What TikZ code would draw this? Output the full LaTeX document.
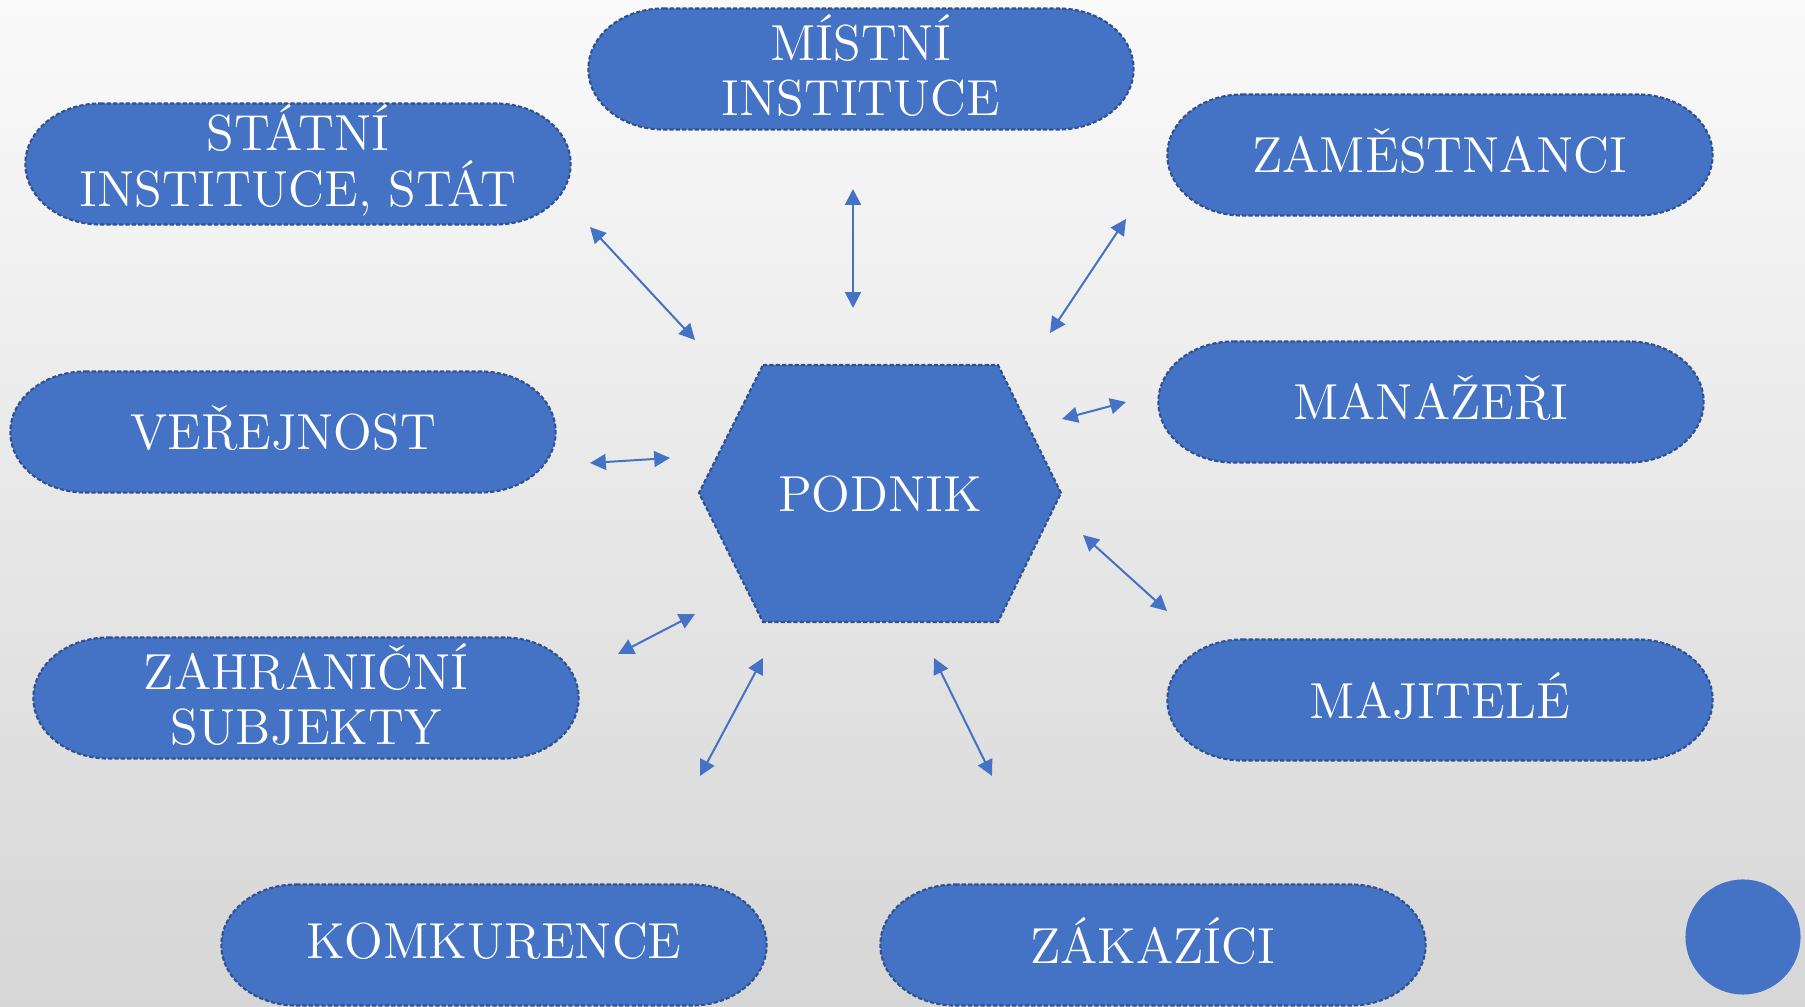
\documentclass[tikz,border=0pt]{standalone}
\usetikzlibrary{arrows.meta}
\definecolor{obl}{HTML}{4472C4}
\definecolor{obd}{HTML}{2F528F}
\definecolor{bgtop}{HTML}{FAFAFA}
\definecolor{bgmid}{HTML}{F0F0F0}
\definecolor{bgbot}{HTML}{D6D6D6}
\begin{document}
\begin{tikzpicture}[x=0.01cm,y=-0.01cm,
  boxline/.style={draw=obd, fill=obl, dash pattern=on 1.2pt off 0.6pt, line width=0.6pt},
  txt/.style={text=white, align=center, font=\fontsize{14.4}{15.8}\selectfont, inner sep=0pt},
  pics/stad/.style={code={
    \path[boxline] (-1.975cm,0.605cm) -- (1.975cm,0.605cm)
      arc[start angle=90,end angle=-90,x radius=0.75cm,y radius=0.605cm]
      -- (-1.975cm,-0.605cm)
      arc[start angle=270,end angle=90,x radius=0.75cm,y radius=0.605cm]
      -- cycle;}},
  link/.style={draw=obl, line width=0.57pt,
    {Triangle[length=4.5pt,width=4.5pt]}-{Triangle[length=4.5pt,width=4.5pt]}}]
\useasboundingbox (0,0) rectangle (1805,1007);
\shade[top color=bgtop, middle color=bgmid, bottom color=bgbot] (0,0) rectangle (1805,1007);

% outer boxes
\pic at (861,69) {stad};
\pic at (298,164) {stad};
\pic at (1440,155) {stad};
\pic at (283,432) {stad};
\pic at (1431,402) {stad};
\pic at (306,698) {stad};
\pic at (1440,700) {stad};
\pic at (494,945) {stad};
\pic at (1153,945) {stad};

\node[txt] (mistni) at (861,65.5) {MÍSTNÍ\\INSTITUCE};
\node[txt] (statni) at (298,160.5) {STÁTNÍ\\INSTITUCE, STÁT};
\node[txt] (zam) at (1440,151.5) {ZAMĚSTNANCI};
\node[txt] (ver) at (283,428.5) {VEŘEJNOST};
\node[txt] (man) at (1431,398.5) {MANAŽEŘI};
\node[txt] (zahr) at (306,694.5) {ZAHRANIČNÍ\\SUBJEKTY};
\node[txt] (maj) at (1440,696.5) {MAJITELÉ};
\node[txt] (komk) at (494,941.5) {KOMKURENCE};
\node[txt] (zak) at (1153,941.5) {ZÁKAZÍCI};

% centre hexagon
\draw[boxline] (763,365) -- (998,365) -- (1061,493) -- (998,622) -- (763,622) -- (699,493) -- cycle;
\node[txt] (podnik) at (880,494) {PODNIK};

% decorative circle
\node[circle, fill=obl, minimum size=1.15cm, inner sep=0pt] (dot) at (1743,937) {};

% arrow end points
\coordinate (a1) at (590,227); \coordinate (a2) at (695,340);
\coordinate (b1) at (853,189); \coordinate (b2) at (853,308);
\coordinate (c1) at (1126,219); \coordinate (c2) at (1050,333);
\coordinate (d1) at (1126,402); \coordinate (d2) at (1062,419);
\coordinate (e1) at (590,463); \coordinate (e2) at (670,458);
\coordinate (f1) at (1083,535); \coordinate (f2) at (1167,611);
\coordinate (g1) at (618,654); \coordinate (g2) at (695,614);
\coordinate (h1) at (763,658); \coordinate (h2) at (700,776);
\coordinate (i1) at (934,658); \coordinate (i2) at (992,776);

\draw[link] (a1) -- (a2);
\draw[link] (b1) -- (b2);
\draw[link] (c1) -- (c2);
\draw[link] (d1) -- (d2);
\draw[link] (e1) -- (e2);
\draw[link] (f1) -- (f2);
\draw[link] (g1) -- (g2);
\draw[link] (h1) -- (h2);
\draw[link] (i1) -- (i2);
\end{tikzpicture}
\end{document}
